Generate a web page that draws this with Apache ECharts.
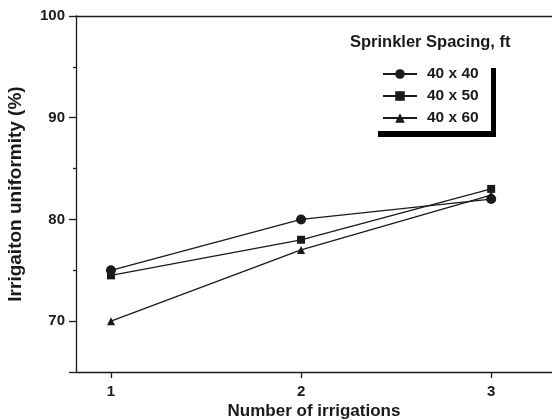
<!DOCTYPE html>
<html>
<head>
<meta charset="utf-8">
<script src="https://cdn.jsdelivr.net/npm/echarts@6/dist/echarts.min.js"></script>
<style>
  html, body { margin: 0; padding: 0; background: #fff; }
  #chart { width: 552px; height: 420px; }
</style>
</head>
<body>
<div id="chart"></div>
<script>
// number of irrigations
const irrigations = [1, 2, 3]
// irrigation uniformity (%) per sprinkler spacing
const spacing40x40 = [75, 80, 82]
const spacing40x50 = [74.5, 78, 83]
const spacing40x60 = [70, 77, 82.4]
const seriesNames = ['40 x 40', '40 x 50', '40 x 60']
const yLabels = [70, 80, 90, 100]
const yMinorTicks = [75, 85, 95]

const ink = '#1a1a1a'
const font = 'Liberation Sans, Arial, sans-serif'

function pairs(values) {
  return irrigations.map((x, i) => [x, values[i]])
}

function lineSeries(name, values, symbol, size) {
  return {
    name: name,
    type: 'line',
    data: pairs(values),
    symbol: symbol,
    symbolSize: size,
    itemStyle: { color: ink },
    lineStyle: { color: ink, width: 1.3 },
    emphasis: { disabled: true },
    animation: false
  }
}

const chart = echarts.init(document.getElementById('chart'))

const option = {
  backgroundColor: '#fff',
  animation: false,
  grid: { left: 76, top: 16, right: 0, bottom: 48, containLabel: false, outerBoundsMode: 'none' },
  legend: {
    orient: 'vertical',
    left: 382,
    top: 66,
    padding: 0,
    itemWidth: 34,
    itemHeight: 12,
    itemGap: 6,
    textStyle: { fontFamily: font, fontWeight: 'bold', fontSize: 15.5, color: ink, padding: [0, 0, 0, 5] },
    data: seriesNames
  },
  xAxis: [{
    type: 'value',
    min: 0.816,
    max: 3.32,
    name: 'Number of irrigations',
    nameLocation: 'middle',
    nameGap: 31,
    nameMoveOverlap: false,
    nameTextStyle: { fontFamily: font, fontWeight: 'bold', fontSize: 17, color: ink },
    axisLine: { lineStyle: { color: ink, width: 1.3 } },
    axisTick: { customValues: irrigations, length: 6, lineStyle: { color: ink, width: 1.3 } },
    axisLabel: { customValues: irrigations, margin: 12, fontFamily: font, fontWeight: 'bold', fontSize: 15, color: ink },
    splitLine: { show: false }
  }, {
    type: 'value',
    position: 'top',
    min: 0.816,
    max: 3.32,
    axisLine: { lineStyle: { color: ink, width: 1.3 } },
    axisTick: { show: false },
    axisLabel: { show: false },
    splitLine: { show: false }
  }],
  yAxis: [{
    type: 'value',
    min: 65,
    max: 100,
    interval: 5,
    name: 'Irrigaiton uniformity (%)',
    nameLocation: 'middle',
    nameGap: 51,
    nameMoveOverlap: false,
    nameTextStyle: { fontFamily: font, fontWeight: 'bold', fontSize: 19, color: ink },
    axisLine: { show: true, lineStyle: { color: ink, width: 1.3 } },
    axisTick: { customValues: [65].concat(yLabels), length: 7, lineStyle: { color: ink, width: 1.3 } },
    axisLabel: { customValues: yLabels, margin: 11, fontFamily: font, fontWeight: 'bold', fontSize: 15, color: ink },
    splitLine: { show: false }
  }, {
    type: 'value',
    position: 'left',
    min: 65,
    max: 100,
    interval: 5,
    axisLine: { show: false },
    axisTick: { customValues: yMinorTicks, length: 3, lineStyle: { color: ink, width: 1.3 } },
    axisLabel: { show: false },
    splitLine: { show: false }
  }],
  graphic: [{
    type: 'text',
    left: 350,
    top: 34,
    style: { text: 'Sprinkler Spacing, ft', fontFamily: font, fontWeight: 'bold', fontSize: 16.5, fill: ink }
  }, {
    type: 'rect',
    shape: { x: 491, y: 68, width: 5, height: 69 },
    style: { fill: '#000' }
  }, {
    type: 'rect',
    shape: { x: 378, y: 131, width: 118, height: 6 },
    style: { fill: '#000' }
  }],
  series: [
    lineSeries(seriesNames[0], spacing40x40, 'circle', 10),
    lineSeries(seriesNames[1], spacing40x50, 'rect', 8),
    lineSeries(seriesNames[2], spacing40x60, 'triangle', 8)
  ]
}

chart.setOption(option)
</script>
</body>
</html>
